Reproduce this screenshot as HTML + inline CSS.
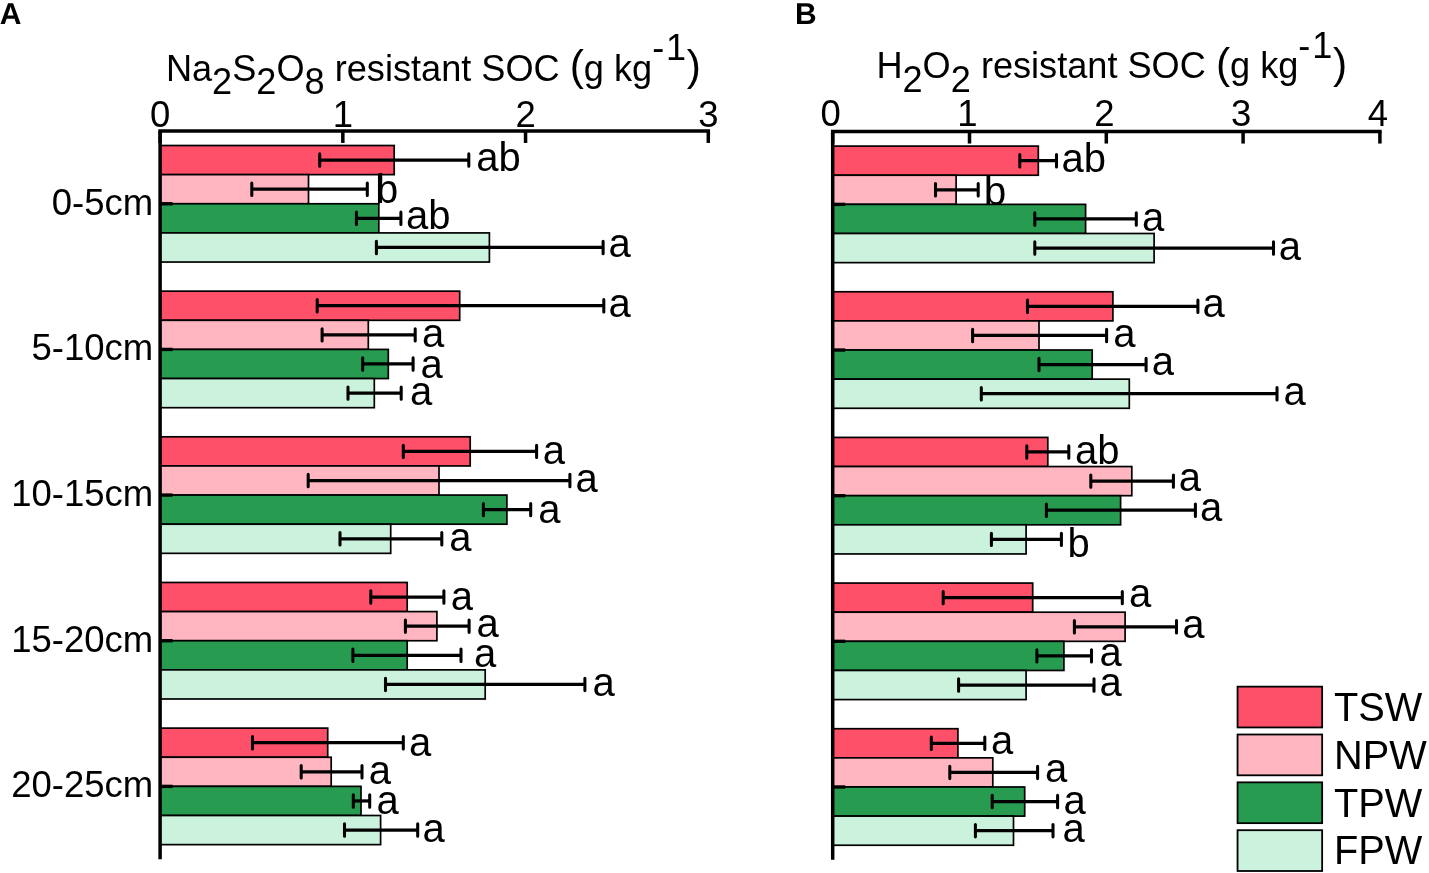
<!DOCTYPE html>
<html lang="en"><head><meta charset="utf-8"><title>Resistant SOC</title>
<style>html,body{margin:0;padding:0;background:#fff}body{width:1429px;height:873px;overflow:hidden;font-family:"Liberation Sans",sans-serif}svg{display:block}</style>
</head><body>
<svg width="1429" height="873" viewBox="0 0 1429 873" font-family="'Liberation Sans', sans-serif" fill="#000">
<rect x="160.10" y="145.51" width="234.10" height="29.13" fill="#FF506A" stroke="#000" stroke-width="1.7"/>
<rect x="160.10" y="174.64" width="148.40" height="29.13" fill="#FFB6C1" stroke="#000" stroke-width="1.7"/>
<rect x="160.10" y="203.77" width="218.70" height="29.13" fill="#279C50" stroke="#000" stroke-width="1.7"/>
<rect x="160.10" y="232.91" width="329.30" height="29.13" fill="#CBF2DC" stroke="#000" stroke-width="1.7"/>
<rect x="160.10" y="291.17" width="299.60" height="29.13" fill="#FF506A" stroke="#000" stroke-width="1.7"/>
<rect x="160.10" y="320.30" width="208.20" height="29.13" fill="#FFB6C1" stroke="#000" stroke-width="1.7"/>
<rect x="160.10" y="349.43" width="228.20" height="29.13" fill="#279C50" stroke="#000" stroke-width="1.7"/>
<rect x="160.10" y="378.56" width="214.20" height="29.13" fill="#CBF2DC" stroke="#000" stroke-width="1.7"/>
<rect x="160.10" y="436.81" width="310.10" height="29.13" fill="#FF506A" stroke="#000" stroke-width="1.7"/>
<rect x="160.10" y="465.94" width="278.90" height="29.13" fill="#FFB6C1" stroke="#000" stroke-width="1.7"/>
<rect x="160.10" y="495.07" width="346.80" height="29.13" fill="#279C50" stroke="#000" stroke-width="1.7"/>
<rect x="160.10" y="524.21" width="230.60" height="29.13" fill="#CBF2DC" stroke="#000" stroke-width="1.7"/>
<rect x="160.10" y="582.47" width="247.10" height="29.13" fill="#FF506A" stroke="#000" stroke-width="1.7"/>
<rect x="160.10" y="611.60" width="276.80" height="29.13" fill="#FFB6C1" stroke="#000" stroke-width="1.7"/>
<rect x="160.10" y="640.73" width="247.10" height="29.13" fill="#279C50" stroke="#000" stroke-width="1.7"/>
<rect x="160.10" y="669.86" width="325.10" height="29.13" fill="#CBF2DC" stroke="#000" stroke-width="1.7"/>
<rect x="160.10" y="728.12" width="167.60" height="29.13" fill="#FF506A" stroke="#000" stroke-width="1.7"/>
<rect x="160.10" y="757.25" width="171.10" height="29.13" fill="#FFB6C1" stroke="#000" stroke-width="1.7"/>
<rect x="160.10" y="786.38" width="200.90" height="29.13" fill="#279C50" stroke="#000" stroke-width="1.7"/>
<rect x="160.10" y="815.50" width="220.50" height="29.13" fill="#CBF2DC" stroke="#000" stroke-width="1.7"/>
<path d="M378.8 174.64V203.77" stroke="#000" stroke-width="1.7"/>
<path d="M319.7 160.08H468.8" stroke="#000" stroke-width="3.25" fill="none"/>
<path d="M319.7 153.88V166.28M468.8 153.88V166.28" stroke="#000" stroke-width="3.05" fill="none" stroke-linecap="round"/>
<text x="476.2" y="171.0" font-size="40">ab</text>
<path d="M251.8 189.21H367.3" stroke="#000" stroke-width="3.25" fill="none"/>
<path d="M251.8 183.01V195.41M367.3 183.01V195.41" stroke="#000" stroke-width="3.05" fill="none" stroke-linecap="round"/>
<text x="376.0" y="203.3" font-size="40">b</text>
<path d="M356.4 218.34H400.9" stroke="#000" stroke-width="3.25" fill="none"/>
<path d="M356.4 212.14V224.54M400.9 212.14V224.54" stroke="#000" stroke-width="3.05" fill="none" stroke-linecap="round"/>
<text x="406.1" y="229.3" font-size="40">ab</text>
<path d="M376.4 247.47H603.1" stroke="#000" stroke-width="3.25" fill="none"/>
<path d="M376.4 241.27V253.67M603.1 241.27V253.67" stroke="#000" stroke-width="3.05" fill="none" stroke-linecap="round"/>
<text x="608.4" y="256.7" font-size="40">a</text>
<path d="M317.2 305.73H603.8" stroke="#000" stroke-width="3.25" fill="none"/>
<path d="M317.2 299.53V311.93M603.8 299.53V311.93" stroke="#000" stroke-width="3.05" fill="none" stroke-linecap="round"/>
<text x="608.4" y="317.2" font-size="40">a</text>
<path d="M322.1 334.86H415.2" stroke="#000" stroke-width="3.25" fill="none"/>
<path d="M322.1 328.66V341.06M415.2 328.66V341.06" stroke="#000" stroke-width="3.05" fill="none" stroke-linecap="round"/>
<text x="422.1" y="347.4" font-size="40">a</text>
<path d="M362.7 363.99H413.1" stroke="#000" stroke-width="3.25" fill="none"/>
<path d="M362.7 357.79V370.19M413.1 357.79V370.19" stroke="#000" stroke-width="3.05" fill="none" stroke-linecap="round"/>
<text x="420.4" y="377.7" font-size="40">a</text>
<path d="M348.0 393.12H401.2" stroke="#000" stroke-width="3.25" fill="none"/>
<path d="M348.0 386.92V399.32M401.2 386.92V399.32" stroke="#000" stroke-width="3.05" fill="none" stroke-linecap="round"/>
<text x="409.9" y="404.9" font-size="40">a</text>
<path d="M403.3 451.38H536.6" stroke="#000" stroke-width="3.25" fill="none"/>
<path d="M403.3 445.18V457.58M536.6 445.18V457.58" stroke="#000" stroke-width="3.05" fill="none" stroke-linecap="round"/>
<text x="542.7" y="463.9" font-size="40">a</text>
<path d="M308.2 480.51H569.9" stroke="#000" stroke-width="3.25" fill="none"/>
<path d="M308.2 474.31V486.71M569.9 474.31V486.71" stroke="#000" stroke-width="3.05" fill="none" stroke-linecap="round"/>
<text x="575.5" y="492.1" font-size="40">a</text>
<path d="M483.4 509.64H530.7" stroke="#000" stroke-width="3.25" fill="none"/>
<path d="M483.4 503.44V515.84M530.7 503.44V515.84" stroke="#000" stroke-width="3.05" fill="none" stroke-linecap="round"/>
<text x="538.2" y="522.7" font-size="40">a</text>
<path d="M340.0 538.77H441.8" stroke="#000" stroke-width="3.25" fill="none"/>
<path d="M340.0 532.57V544.97M441.8 532.57V544.97" stroke="#000" stroke-width="3.05" fill="none" stroke-linecap="round"/>
<text x="449.2" y="551.2" font-size="40">a</text>
<path d="M370.8 597.03H443.9" stroke="#000" stroke-width="3.25" fill="none"/>
<path d="M370.8 590.83V603.23M443.9 590.83V603.23" stroke="#000" stroke-width="3.05" fill="none" stroke-linecap="round"/>
<text x="450.7" y="610.1" font-size="40">a</text>
<path d="M405.4 626.16H469.1" stroke="#000" stroke-width="3.25" fill="none"/>
<path d="M405.4 619.96V632.36M469.1 619.96V632.36" stroke="#000" stroke-width="3.05" fill="none" stroke-linecap="round"/>
<text x="476.4" y="636.9" font-size="40">a</text>
<path d="M352.9 655.29H461.0" stroke="#000" stroke-width="3.25" fill="none"/>
<path d="M352.9 649.09V661.49M461.0 649.09V661.49" stroke="#000" stroke-width="3.05" fill="none" stroke-linecap="round"/>
<text x="474.0" y="667.2" font-size="40">a</text>
<path d="M385.5 684.42H584.9" stroke="#000" stroke-width="3.25" fill="none"/>
<path d="M385.5 678.22V690.62M584.9 678.22V690.62" stroke="#000" stroke-width="3.05" fill="none" stroke-linecap="round"/>
<text x="592.6" y="695.7" font-size="40">a</text>
<path d="M252.5 742.68H403.3" stroke="#000" stroke-width="3.25" fill="none"/>
<path d="M252.5 736.48V748.88M403.3 736.48V748.88" stroke="#000" stroke-width="3.05" fill="none" stroke-linecap="round"/>
<text x="409.0" y="755.6" font-size="40">a</text>
<path d="M301.2 771.81H362.0" stroke="#000" stroke-width="3.25" fill="none"/>
<path d="M301.2 765.61V778.01M362.0 765.61V778.01" stroke="#000" stroke-width="3.05" fill="none" stroke-linecap="round"/>
<text x="368.8" y="784.1" font-size="40">a</text>
<path d="M353.3 800.94H369.7" stroke="#000" stroke-width="3.25" fill="none"/>
<path d="M353.3 794.74V807.14M369.7 794.74V807.14" stroke="#000" stroke-width="3.05" fill="none" stroke-linecap="round"/>
<text x="376.4" y="813.8" font-size="40">a</text>
<path d="M344.5 830.07H417.7" stroke="#000" stroke-width="3.25" fill="none"/>
<path d="M344.5 823.87V836.27M417.7 823.87V836.27" stroke="#000" stroke-width="3.05" fill="none" stroke-linecap="round"/>
<text x="422.6" y="842.1" font-size="40">a</text>
<path d="M160.10 859.20V130.95H710.05" stroke="#000" stroke-width="3.5" fill="none" stroke-linejoin="miter"/>
<path d="M160.10 130.95V142.95" stroke="#000" stroke-width="3.5"/>
<text x="160.10" y="126.7" font-size="36.5" text-anchor="middle">0</text>
<path d="M342.83 130.95V142.95" stroke="#000" stroke-width="3.5"/>
<text x="342.83" y="126.7" font-size="36.5" text-anchor="middle">1</text>
<path d="M525.56 130.95V142.95" stroke="#000" stroke-width="3.5"/>
<text x="525.56" y="126.7" font-size="36.5" text-anchor="middle">2</text>
<path d="M708.29 130.95V142.95" stroke="#000" stroke-width="3.5"/>
<text x="708.29" y="126.7" font-size="36.5" text-anchor="middle">3</text>
<path d="M160.10 203.77H172.60" stroke="#000" stroke-width="3.4"/>
<path d="M160.10 349.43H172.60" stroke="#000" stroke-width="3.4"/>
<path d="M160.10 495.07H172.60" stroke="#000" stroke-width="3.4"/>
<path d="M160.10 640.73H172.60" stroke="#000" stroke-width="3.4"/>
<path d="M160.10 786.38H172.60" stroke="#000" stroke-width="3.4"/>
<text x="153.2" y="214.77" font-size="36.5" text-anchor="end">0-5cm</text>
<text x="153.2" y="360.43" font-size="36.5" text-anchor="end">5-10cm</text>
<text x="153.2" y="506.07" font-size="36.5" text-anchor="end">10-15cm</text>
<text x="153.2" y="651.73" font-size="36.5" text-anchor="end">15-20cm</text>
<text x="153.2" y="797.38" font-size="36.5" text-anchor="end">20-25cm</text>
<rect x="832.70" y="146.11" width="205.60" height="29.13" fill="#FF506A" stroke="#000" stroke-width="1.7"/>
<rect x="832.70" y="175.24" width="123.40" height="29.13" fill="#FFB6C1" stroke="#000" stroke-width="1.7"/>
<rect x="832.70" y="204.38" width="252.90" height="29.13" fill="#279C50" stroke="#000" stroke-width="1.7"/>
<rect x="832.70" y="233.50" width="321.40" height="29.13" fill="#CBF2DC" stroke="#000" stroke-width="1.7"/>
<rect x="832.70" y="291.76" width="280.20" height="29.13" fill="#FF506A" stroke="#000" stroke-width="1.7"/>
<rect x="832.70" y="320.89" width="206.30" height="29.13" fill="#FFB6C1" stroke="#000" stroke-width="1.7"/>
<rect x="832.70" y="350.02" width="259.50" height="29.13" fill="#279C50" stroke="#000" stroke-width="1.7"/>
<rect x="832.70" y="379.15" width="296.60" height="29.13" fill="#CBF2DC" stroke="#000" stroke-width="1.7"/>
<rect x="832.70" y="437.42" width="215.10" height="29.13" fill="#FF506A" stroke="#000" stroke-width="1.7"/>
<rect x="832.70" y="466.55" width="299.10" height="29.13" fill="#FFB6C1" stroke="#000" stroke-width="1.7"/>
<rect x="832.70" y="495.68" width="287.90" height="29.13" fill="#279C50" stroke="#000" stroke-width="1.7"/>
<rect x="832.70" y="524.81" width="193.40" height="29.13" fill="#CBF2DC" stroke="#000" stroke-width="1.7"/>
<rect x="832.70" y="583.07" width="200.00" height="29.13" fill="#FF506A" stroke="#000" stroke-width="1.7"/>
<rect x="832.70" y="612.20" width="292.40" height="29.13" fill="#FFB6C1" stroke="#000" stroke-width="1.7"/>
<rect x="832.70" y="641.33" width="231.20" height="29.13" fill="#279C50" stroke="#000" stroke-width="1.7"/>
<rect x="832.70" y="670.46" width="193.40" height="29.13" fill="#CBF2DC" stroke="#000" stroke-width="1.7"/>
<rect x="832.70" y="728.72" width="125.20" height="29.13" fill="#FF506A" stroke="#000" stroke-width="1.7"/>
<rect x="832.70" y="757.85" width="160.10" height="29.13" fill="#FFB6C1" stroke="#000" stroke-width="1.7"/>
<rect x="832.70" y="786.98" width="192.00" height="29.13" fill="#279C50" stroke="#000" stroke-width="1.7"/>
<rect x="832.70" y="816.11" width="180.80" height="29.13" fill="#CBF2DC" stroke="#000" stroke-width="1.7"/>
<path d="M987.6 175.25V204.38" stroke="#000" stroke-width="1.7"/>
<path d="M1019.8 160.68H1056.5" stroke="#000" stroke-width="3.25" fill="none"/>
<path d="M1019.8 154.48V166.88M1056.5 154.48V166.88" stroke="#000" stroke-width="3.05" fill="none" stroke-linecap="round"/>
<text x="1061.4" y="172.2" font-size="40">ab</text>
<path d="M935.5 189.81H978.2" stroke="#000" stroke-width="3.25" fill="none"/>
<path d="M935.5 183.61V196.01M978.2 183.61V196.01" stroke="#000" stroke-width="3.05" fill="none" stroke-linecap="round"/>
<text x="984.0" y="205.0" font-size="40">b</text>
<path d="M1034.8 218.94H1136.3" stroke="#000" stroke-width="3.25" fill="none"/>
<path d="M1034.8 212.74V225.14M1136.3 212.74V225.14" stroke="#000" stroke-width="3.05" fill="none" stroke-linecap="round"/>
<text x="1141.9" y="231.1" font-size="40">a</text>
<path d="M1034.8 248.07H1273.5" stroke="#000" stroke-width="3.25" fill="none"/>
<path d="M1034.8 241.87V254.27M1273.5 241.87V254.27" stroke="#000" stroke-width="3.05" fill="none" stroke-linecap="round"/>
<text x="1278.7" y="259.5" font-size="40">a</text>
<path d="M1027.5 306.33H1197.9" stroke="#000" stroke-width="3.25" fill="none"/>
<path d="M1027.5 300.13V312.53M1197.9 300.13V312.53" stroke="#000" stroke-width="3.05" fill="none" stroke-linecap="round"/>
<text x="1202.6" y="317.2" font-size="40">a</text>
<path d="M972.6 335.46H1106.6" stroke="#000" stroke-width="3.25" fill="none"/>
<path d="M972.6 329.26V341.66M1106.6 329.26V341.66" stroke="#000" stroke-width="3.05" fill="none" stroke-linecap="round"/>
<text x="1113.2" y="346.6" font-size="40">a</text>
<path d="M1039.0 364.59H1146.1" stroke="#000" stroke-width="3.25" fill="none"/>
<path d="M1039.0 358.39V370.79M1146.1 358.39V370.79" stroke="#000" stroke-width="3.05" fill="none" stroke-linecap="round"/>
<text x="1151.8" y="374.8" font-size="40">a</text>
<path d="M981.3 393.72H1277.0" stroke="#000" stroke-width="3.25" fill="none"/>
<path d="M981.3 387.52V399.92M1277.0 387.52V399.92" stroke="#000" stroke-width="3.05" fill="none" stroke-linecap="round"/>
<text x="1283.4" y="405.0" font-size="40">a</text>
<path d="M1026.8 451.98H1068.8" stroke="#000" stroke-width="3.25" fill="none"/>
<path d="M1026.8 445.78V458.18M1068.8 445.78V458.18" stroke="#000" stroke-width="3.05" fill="none" stroke-linecap="round"/>
<text x="1075.0" y="463.9" font-size="40">ab</text>
<path d="M1090.8 481.11H1173.4" stroke="#000" stroke-width="3.25" fill="none"/>
<path d="M1090.8 474.91V487.31M1173.4 474.91V487.31" stroke="#000" stroke-width="3.05" fill="none" stroke-linecap="round"/>
<text x="1178.8" y="490.8" font-size="40">a</text>
<path d="M1046.4 510.24H1195.4" stroke="#000" stroke-width="3.25" fill="none"/>
<path d="M1046.4 504.04V516.44M1195.4 504.04V516.44" stroke="#000" stroke-width="3.05" fill="none" stroke-linecap="round"/>
<text x="1200.1" y="521.0" font-size="40">a</text>
<path d="M991.4 539.37H1061.4" stroke="#000" stroke-width="3.25" fill="none"/>
<path d="M991.4 533.17V545.57M1061.4 533.17V545.57" stroke="#000" stroke-width="3.05" fill="none" stroke-linecap="round"/>
<text x="1067.6" y="556.8" font-size="40">b</text>
<path d="M943.2 597.63H1122.3" stroke="#000" stroke-width="3.25" fill="none"/>
<path d="M943.2 591.43V603.83M1122.3 591.43V603.83" stroke="#000" stroke-width="3.05" fill="none" stroke-linecap="round"/>
<text x="1129.1" y="607.2" font-size="40">a</text>
<path d="M1074.4 626.76H1176.5" stroke="#000" stroke-width="3.25" fill="none"/>
<path d="M1074.4 620.56V632.96M1176.5 620.56V632.96" stroke="#000" stroke-width="3.05" fill="none" stroke-linecap="round"/>
<text x="1182.3" y="637.9" font-size="40">a</text>
<path d="M1036.9 655.89H1091.5" stroke="#000" stroke-width="3.25" fill="none"/>
<path d="M1036.9 649.69V662.09M1091.5 649.69V662.09" stroke="#000" stroke-width="3.05" fill="none" stroke-linecap="round"/>
<text x="1099.4" y="666.3" font-size="40">a</text>
<path d="M958.6 685.02H1094.0" stroke="#000" stroke-width="3.25" fill="none"/>
<path d="M958.6 678.82V691.22M1094.0 678.82V691.22" stroke="#000" stroke-width="3.05" fill="none" stroke-linecap="round"/>
<text x="1099.4" y="695.9" font-size="40">a</text>
<path d="M931.3 743.28H984.8" stroke="#000" stroke-width="3.25" fill="none"/>
<path d="M931.3 737.08V749.48M984.8 737.08V749.48" stroke="#000" stroke-width="3.05" fill="none" stroke-linecap="round"/>
<text x="991.0" y="753.9" font-size="40">a</text>
<path d="M949.8 772.41H1037.6" stroke="#000" stroke-width="3.25" fill="none"/>
<path d="M949.8 766.21V778.61M1037.6 766.21V778.61" stroke="#000" stroke-width="3.05" fill="none" stroke-linecap="round"/>
<text x="1045.1" y="782.1" font-size="40">a</text>
<path d="M992.2 801.54H1057.6" stroke="#000" stroke-width="3.25" fill="none"/>
<path d="M992.2 795.34V807.74M1057.6 795.34V807.74" stroke="#000" stroke-width="3.05" fill="none" stroke-linecap="round"/>
<text x="1063.5" y="813.5" font-size="40">a</text>
<path d="M975.4 830.67H1053.0" stroke="#000" stroke-width="3.25" fill="none"/>
<path d="M975.4 824.47V836.87M1053.0 824.47V836.87" stroke="#000" stroke-width="3.05" fill="none" stroke-linecap="round"/>
<text x="1062.4" y="842.1" font-size="40">a</text>
<path d="M832.70 859.80V131.55H1381.65" stroke="#000" stroke-width="3.5" fill="none" stroke-linejoin="miter"/>
<path d="M832.70 131.55V143.55" stroke="#000" stroke-width="3.5"/>
<text x="830.70" y="125.5" font-size="36.5" text-anchor="middle">0</text>
<path d="M969.50 131.55V143.55" stroke="#000" stroke-width="3.5"/>
<text x="967.50" y="125.5" font-size="36.5" text-anchor="middle">1</text>
<path d="M1106.30 131.55V143.55" stroke="#000" stroke-width="3.5"/>
<text x="1104.30" y="125.5" font-size="36.5" text-anchor="middle">2</text>
<path d="M1243.10 131.55V143.55" stroke="#000" stroke-width="3.5"/>
<text x="1241.10" y="125.5" font-size="36.5" text-anchor="middle">3</text>
<path d="M1379.90 131.55V143.55" stroke="#000" stroke-width="3.5"/>
<text x="1377.90" y="125.5" font-size="36.5" text-anchor="middle">4</text>
<path d="M832.70 204.38H845.20" stroke="#000" stroke-width="3.4"/>
<path d="M832.70 350.02H845.20" stroke="#000" stroke-width="3.4"/>
<path d="M832.70 495.67H845.20" stroke="#000" stroke-width="3.4"/>
<path d="M832.70 641.33H845.20" stroke="#000" stroke-width="3.4"/>
<path d="M832.70 786.98H845.20" stroke="#000" stroke-width="3.4"/>
<text x="165.9" y="80.9" font-size="36.15">Na<tspan dy="12.8">2</tspan><tspan dy="-12.8">S</tspan><tspan dy="12.8">2</tspan><tspan dy="-12.8">O</tspan><tspan dy="12.8">8</tspan><tspan dy="-12.8"> resistant SOC </tspan><tspan font-size="42.5" dy="-0.5">(</tspan><tspan dy="0.5">g kg</tspan><tspan dy="-20.5">-</tspan><tspan dx="1.9">1</tspan><tspan font-size="42.5" dy="20" dx="0.6">)</tspan></text>
<text x="876.4" y="78.2" font-size="36.15">H<tspan dy="13.6">2</tspan><tspan dy="-13.6">O</tspan><tspan dy="13.6">2</tspan><tspan dy="-13.6"> resistant SOC </tspan><tspan font-size="42.5" dy="-0.5">(</tspan><tspan dy="0.5">g kg</tspan><tspan dy="-20.5">-</tspan><tspan dx="1.9">1</tspan><tspan font-size="42.5" dy="20" dx="0.6">)</tspan></text>
<text x="-0.3" y="23.9" font-size="30" font-weight="bold" text-rendering="geometricPrecision">A</text>
<text x="795.0" y="23.9" font-size="30" font-weight="bold" text-rendering="geometricPrecision">B</text>
<rect x="1237.55" y="686.65" width="84.6" height="40.8" fill="#FF506A" stroke="#000" stroke-width="1.8"/>
<text transform="translate(1334 720.85) scale(0.987 1)" font-size="40.3">TSW</text>
<rect x="1237.55" y="734.50" width="84.6" height="40.8" fill="#FFB6C1" stroke="#000" stroke-width="1.8"/>
<text transform="translate(1334 768.70) scale(0.987 1)" font-size="40.3">NPW</text>
<rect x="1237.55" y="782.35" width="84.6" height="40.8" fill="#279C50" stroke="#000" stroke-width="1.8"/>
<text transform="translate(1334 816.55) scale(0.987 1)" font-size="40.3">TPW</text>
<rect x="1237.55" y="830.20" width="84.6" height="40.8" fill="#CBF2DC" stroke="#000" stroke-width="1.8"/>
<text transform="translate(1334 864.40) scale(0.987 1)" font-size="40.3">FPW</text>
</svg>
</body></html>
